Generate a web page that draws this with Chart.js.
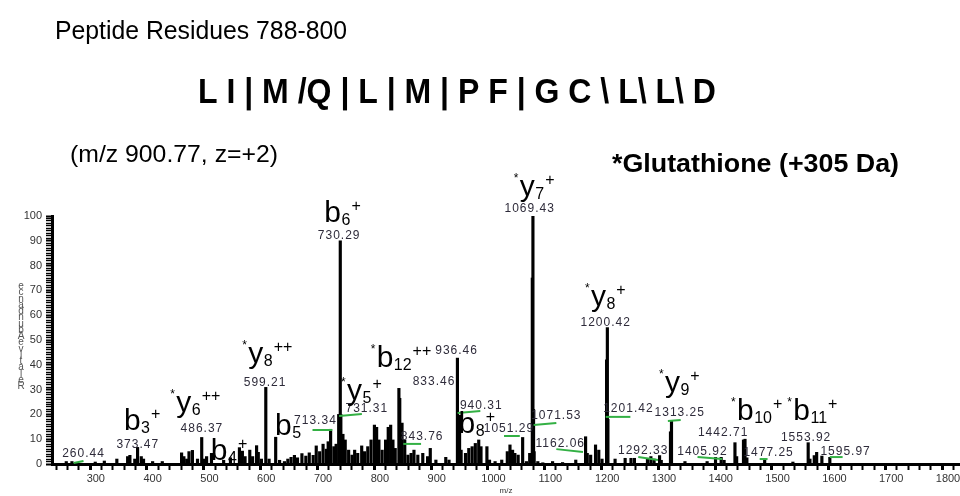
<!DOCTYPE html>
<html>
<head>
<meta charset="utf-8">
<script src="https://cdn.jsdelivr.net/npm/chart.js@4.4.0/dist/chart.umd.min.js"></script>
<style>
  html, body { margin: 0; padding: 0; background: #fff; }
  canvas { display: block; }
</style>
</head>
<body>
<canvas id="chart" width="960" height="496"></canvas>
<script>
// Picos del espectro (m/z e intensidad relativa)
var mz = [248, 258, 299, 315, 337, 356, 360, 368.6, 373.5, 380, 384, 400, 417,
  451, 455, 460, 464, 470, 479, 486.4, 490, 495, 503.6, 525, 537, 552.8, 558, 562.7,
  571, 576, 583, 586, 591.5, 599.2, 605, 616.6, 623.5, 632, 638, 643.7, 649.6, 655,
  662.8, 669.7, 675.7, 682.6, 688, 694, 700, 705.7, 709, 713.3, 719, 723, 727.5,
  730.3, 731.3, 735, 739, 745, 751, 755.6, 761, 768, 773, 778.7, 784.5, 790.4, 794.3,
  798.3, 804, 810, 814.7, 819, 823, 827, 833.5, 835, 839, 843.8, 849.4, 855, 860,
  866.8, 875.5, 884, 888.7, 898.6, 916, 921.7, 936.5, 940.3, 943, 950.7, 956.5, 962.4,
  968, 974, 978, 988.4, 993, 1002.8, 1014.5, 1024.3, 1029, 1033.6, 1037.6, 1043.4,
  1051.3, 1057.9, 1063.7, 1068.3, 1069.4, 1070.5, 1071.5, 1078, 1086.8, 1104, 1121.6,
  1144.8, 1162.1, 1165, 1171, 1179.6, 1185.3, 1191, 1199, 1200.4, 1201.4, 1214,
  1231.7, 1242, 1248, 1271, 1277, 1282.6, 1292.3, 1295.3, 1311.5, 1313.3, 1337, 1376,
  1390.8, 1400.7, 1405.9, 1425, 1428, 1440, 1442.7, 1446, 1477.3, 1527, 1553.9, 1557,
  1564.6, 1568.8, 1578, 1592];
var intensidad = [1, 1, 0.8, 1.2, 2, 3, 3.5, 2, 6.7, 3, 2, 1, 1,
  4.5, 3, 2, 5, 5.5, 2, 10.7, 2, 3, 4.3, 1.5, 2.5, 6.6, 5.2, 3,
  5.6, 3, 7.4, 4.7, 2, 30.9, 2, 10.8, 1.5, 1, 2, 2.7, 3.5, 2.5,
  4.2, 3.2, 4.5, 3.5, 7.3, 5, 8, 6, 9, 14, 7, 8, 20,
  90, 20, 12, 9.7, 5.6, 3.6, 5.6, 4.3, 7.3, 5, 7, 9.7, 15.7, 14.8,
  9.7, 5.6, 9.7, 14.8, 15.7, 9.7, 6.3, 30.5, 26.5, 16.5, 9.7, 3.6, 4.3, 5.6,
  3.6, 4.3, 3, 6.3, 1.6, 2.7, 1.6, 42.7, 19.7, 5.6, 4.3, 6.3, 7,
  8.3, 9.7, 7, 7, 1.6, 1, 1.6, 5, 7.7, 5.6, 4.3, 3.6,
  10.7, 1, 4.3, 75, 100, 22, 5, 1, 0.5, 1, 0.6,
  1.6, 11, 4.3, 3.6, 7.7, 5.6, 2, 42, 55, 18, 2,
  2.3, 2.3, 2.3, 2.3, 3, 2, 3.4, 1.5, 13, 17.5, 1, 1,
  2.7, 2.7, 1.5, 8.6, 3, 9.7, 10, 2.5, 2, 0.8, 8.6, 2,
  3.4, 4.7, 3.2, 2.7];

// Etiquetas numericas de los picos (centro en m/z, base en intensidad)
var etiquetas = ['260.44', '373.47', '486.37', '599.21', '713.34', '730.29', '731.31',
  '833.46', '843.76', '936.46', '940.31', '1051.29', '1069.43', '1071.53', '1162.06',
  '1200.42', '1201.42', '1292.33', '1313.25', '1405.92', '1442.71', '1477.25',
  '1553.92', '1595.97'];
var etiquetaMz = [278.4, 373.8, 486.8, 598, 686.6, 728.3, 777, 895.3, 874.4, 935,
  978.5, 1027.2, 1063.7, 1110.6, 1117.5, 1197.5, 1237.4, 1263.5, 1327.8, 1367.8,
  1404.2, 1484.2, 1550.2, 1619.7];
var etiquetaInt = [2.8, 6.5, 12.9, 31.5, 16.1, 90.7, 21, 31.9, 9.7, 44.4, 22.2,
  12.9, 101.6, 18.1, 6.9, 55.6, 21, 4, 19.4, 3.6, 11.3, 3.2, 9.3, 3.6];

// Marcas verdes
var verdeMz1 = [260.9, 681.4, 728.3, 841.2, 936.8, 1018.5, 1070.6, 1110.6, 1197.5,
  1254.8, 1306.9, 1359.1, 1468.5, 1591.9];
var verdeMz2 = [278.3, 716.1, 768.3, 872.5, 976.8, 1046.3, 1110.6, 1157.5, 1240.9,
  1289.5, 1329.5, 1402.5, 1482.4, 1614.5];
var verdeInt1 = [0.4, 13.7, 19.4, 8.1, 20.6, 11.3, 15.7, 6.0, 19.0, 2.8, 17.3, 2.8, 2.0, 2.8];
var verdeInt2 = [1.2, 13.7, 20.2, 8.1, 21.4, 11.3, 16.5, 4.8, 19.0, 1.6, 17.7, 2.0, 2.0, 2.8];

// Iones
var ionLetra = ['b', 'y', 'y', 'y', 'b', 'y', 'b', 'b', 'b', 'y', 'b', 'y', 'b', 'b'];
var ionSub = ['6', '7', '8', '8', '12', '5', '5', '4', '3', '6', '8', '9', '10', '11'];
var ionSup = ['+', '+', '+', '++', '++', '+', '', '+', '+', '++', '+', '+', '+', '+'];
var ionEstrella = [false, true, true, true, true, true, false, false, false, true, false, true, true, true];
var ionMz = [702.2, 1046.3, 1171.4, 568.4, 794.3, 742.2, 615.4, 502.4, 349.5, 441.6,
  938.6, 1301.7, 1428.6, 1527.6];
var ionInt = [97.6, 108.1, 63.7, 40.7, 39.1, 25.8, 11.7, 1.6, 13.7, 21, 12.5, 29, 17.7, 17.7];

var tituloY = 'Relative Abundance';
var tituloX = 'm/z';

var fuente = '"Liberation Sans", Arial, sans-serif';

function textoAjustado(ctx, texto, x, y, ancho, font) {
  ctx.save();
  ctx.font = font;
  var w = ctx.measureText(texto).width;
  ctx.translate(x, y);
  ctx.scale(ancho / w, 1);
  ctx.textAlign = 'left';
  ctx.fillText(texto, 0, 0);
  ctx.restore();
}

function dibujarIon(ctx, estrella, letra, sub, sup, x, y) {
  ctx.textAlign = 'left';
  ctx.textBaseline = 'alphabetic';
  ctx.fillStyle = '#000';
  if (estrella) {
    ctx.font = '12px ' + fuente;
    ctx.fillText('*', x - 6, y - 14);
  }
  ctx.font = '30px ' + fuente;
  ctx.fillText(letra, x, y);
  var px = x + ctx.measureText(letra).width + 0.5;
  ctx.font = '16px ' + fuente;
  ctx.fillText(sub, px, y + 3);
  px += ctx.measureText(sub).width + 1;
  ctx.fillText(sup, px, y - 11);
}

var anotaciones = {
  id: 'anotaciones',
  afterDraw: function (chart) {
    var ctx = chart.ctx;
    var sx = chart.scales.x, sy = chart.scales.y;
    ctx.save();
    ctx.fillStyle = '#000';
    ctx.textBaseline = 'alphabetic';
    textoAjustado(ctx, 'Peptide Residues 788-800', 55, 39, 292, '26px ' + fuente);
    textoAjustado(ctx, 'L I | M /Q | L | M | P F | G C \\ L\\ L\\ D', 198, 103, 518, 'bold 35px ' + fuente);
    textoAjustado(ctx, '(m/z 900.77, z=+2)', 70, 162, 208, '24px ' + fuente);
    textoAjustado(ctx, '*Glutathione (+305 Da)', 612, 172, 287, 'bold 26px ' + fuente);

    // titulo eje Y, letras apiladas
    var letras = tituloY.replace(' ', '').split('');
    ctx.font = '10px ' + fuente;
    ctx.fillStyle = '#555';
    ctx.textAlign = 'center';
    for (var i = 0; i < letras.length; i++) {
      ctx.fillText(letras[i], 21, 389 - i * 6.25);
    }

    // marcas verdes
    ctx.strokeStyle = '#33b044';
    ctx.lineWidth = 2;
    for (var j = 0; j < verdeMz1.length; j++) {
      ctx.beginPath();
      ctx.moveTo(sx.getPixelForValue(verdeMz1[j]), sy.getPixelForValue(verdeInt1[j]));
      ctx.lineTo(sx.getPixelForValue(verdeMz2[j]), sy.getPixelForValue(verdeInt2[j]));
      ctx.stroke();
    }

    // etiquetas numericas
    ctx.fillStyle = '#2e2b3a';
    ctx.font = '12px ' + fuente;
    ctx.letterSpacing = '1px';
    ctx.textAlign = 'center';
    for (var k = 0; k < etiquetas.length; k++) {
      ctx.fillText(etiquetas[k], sx.getPixelForValue(etiquetaMz[k]), sy.getPixelForValue(etiquetaInt[k]));
    }
    ctx.letterSpacing = '0px';

    for (var n = 0; n < ionLetra.length; n++) {
      dibujarIon(ctx, ionEstrella[n], ionLetra[n], ionSub[n], ionSup[n],
        sx.getPixelForValue(ionMz[n]), sy.getPixelForValue(ionInt[n]));
    }
    ctx.restore();
  }
};

var ctx = document.getElementById('chart').getContext('2d');
var chart = new Chart(ctx, {
  type: 'bar',
  data: {
    datasets: [{
      data: mz.map(function (v, i) { return { x: v, y: intensidad[i] }; }),
      backgroundColor: '#000',
      barThickness: 2.5
    }]
  },
  options: {
    responsive: false,
    devicePixelRatio: 1,
    animation: false,
    layout: { padding: { top: 216, left: 0, right: 0, bottom: 0 } },
    plugins: { legend: { display: false }, tooltip: { enabled: false } },
    scales: {
      x: {
        type: 'linear',
        min: 233,
        max: 1811,
        afterFit: function (s) { s.height = 32; s.paddingLeft = 0; s.paddingRight = 0; },
        border: { display: true, color: '#000', width: 3 },
        grid: {
          drawOnChartArea: false, drawTicks: true, tickLength: 6, tickColor: '#000',
          tickWidth: function (c) { return c.tick && c.tick.value % 100 === 0 ? 3 : 2; }
        },
        ticks: {
          stepSize: 20,
          includeBounds: false,
          autoSkip: false,
          maxRotation: 0,
          padding: 2,
          color: '#333',
          font: { family: fuente, size: 11 },
          callback: function (v) { return v % 100 === 0 ? String(v) : ''; }
        },
        title: { display: true, text: tituloX, color: '#333', font: { family: fuente, size: 8 }, padding: 0 }
      },
      y: {
        min: 0,
        max: 100,
        afterFit: function (s) { s.width = 52; s.paddingTop = 0; s.paddingBottom = 0; },
        border: { display: true, color: '#000', width: 3 },
        grid: {
          drawOnChartArea: false, drawTicks: true, tickLength: 6, tickColor: '#000',
          tickWidth: function (c) { return c.tick && c.tick.value % 10 === 0 ? 2 : 1.4; }
        },
        ticks: {
          stepSize: 1,
          autoSkip: false,
          padding: 4,
          color: '#333',
          font: { family: fuente, size: 11 },
          callback: function (v) { return v % 10 === 0 ? String(v) : ''; }
        }
      }
    }
  },
  plugins: [anotaciones]
});
</script>
</body>
</html>
